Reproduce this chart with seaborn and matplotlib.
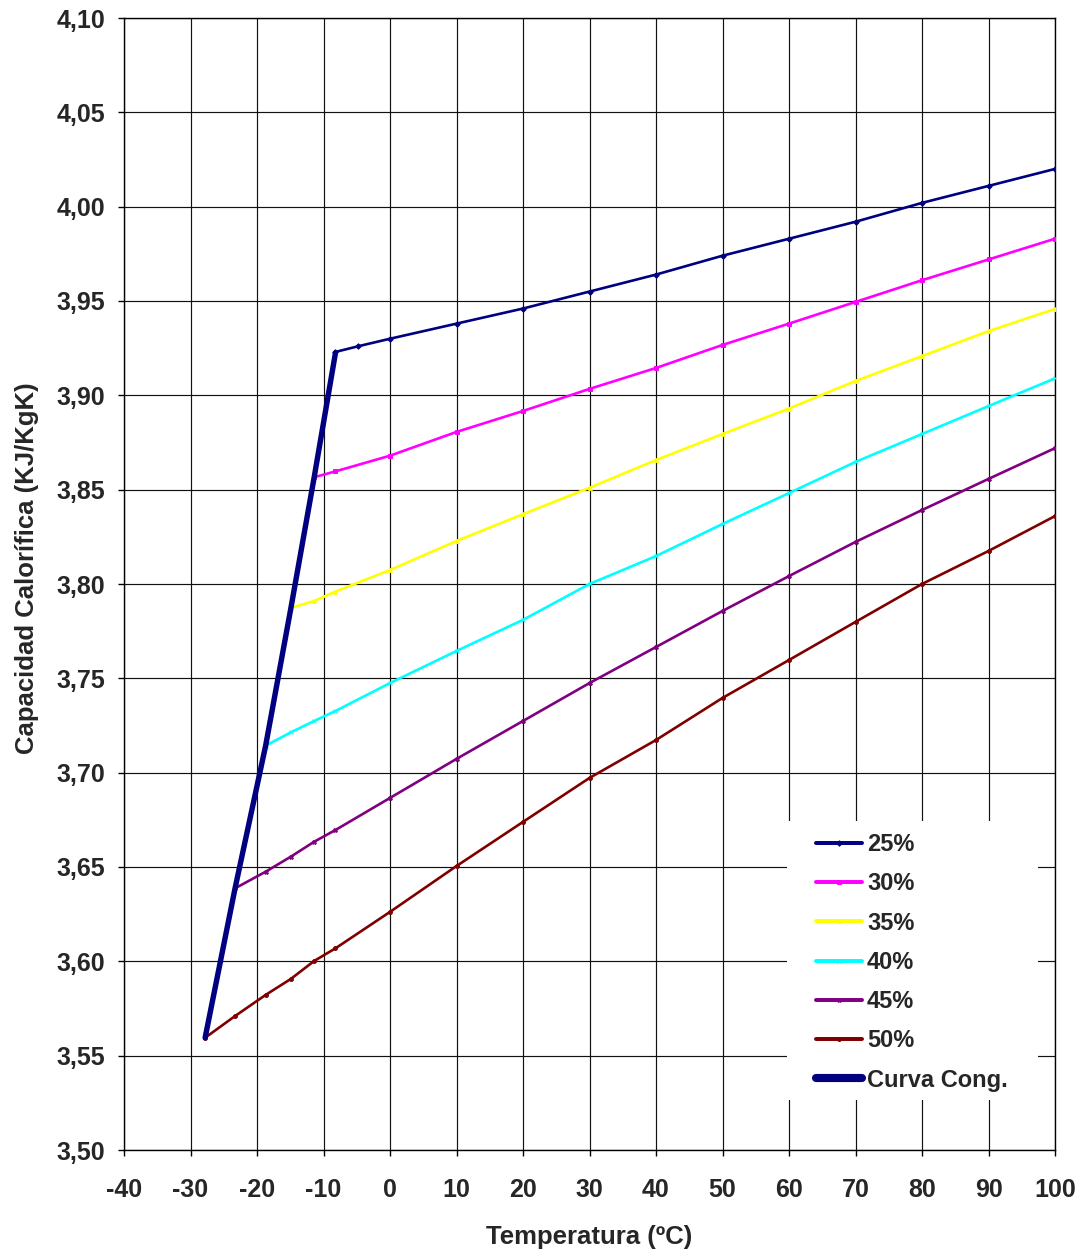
import numpy as np
import pandas as pd
import matplotlib
matplotlib.use("Agg")
import matplotlib.pyplot as plt
from matplotlib.patches import Rectangle
import seaborn as sns

# ---- data ----
t_tail = [0, 10, 20, 30, 40, 50, 60, 70, 80, 90, 100]

t_25 = [-8.2, -4.8] + t_tail
v_25 = [3.923, 3.926, 3.930, 3.938, 3.946, 3.955, 3.964, 3.974, 3.983, 3.992, 4.002, 4.011, 4.020]

t_30 = [-11.4, -8.2] + t_tail
v_30 = [3.8566, 3.8597, 3.868, 3.8806, 3.8917, 3.9034, 3.9145, 3.9267, 3.938, 3.9495, 3.961, 3.972, 3.983]

t_35 = [-14.9, -11.4, -8.2] + t_tail
v_35 = [3.7873, 3.791, 3.796, 3.8074, 3.8228, 3.837, 3.851, 3.8657, 3.8795, 3.893, 3.9076, 3.9208, 3.934, 3.9458]

t_40 = [-18.7, -14.9, -11.4, -8.2] + t_tail
v_40 = [3.7143, 3.7214, 3.7274, 3.7327, 3.7475, 3.7645, 3.781, 3.800, 3.8148, 3.8318, 3.8482, 3.8647, 3.8795, 3.8943, 3.909]

t_45 = [-23.3, -18.7, -14.9, -11.4, -8.2] + t_tail
v_45 = [3.6387, 3.6475, 3.6555, 3.6634, 3.6696, 3.6866, 3.7073, 3.7274, 3.7475, 3.7666, 3.7857, 3.8042, 3.8223, 3.8392, 3.8557, 3.872]

t_50 = [-27.8, -23.3, -18.7, -14.9, -11.4, -8.2] + t_tail
v_50 = [3.5595, 3.571, 3.5822, 3.5907, 3.6002, 3.6069, 3.6262, 3.6505, 3.6739, 3.6972, 3.7173, 3.7396, 3.7597, 3.7799, 3.800, 3.8175, 3.836]

t_cong = [-27.8, -23.3, -18.7, -14.9, -11.4, -8.2]
v_cong = [3.5595, 3.6387, 3.7143, 3.7873, 3.8566, 3.9225]

series_names = ["25%", "30%", "35%", "40%", "45%", "50%"]
series_t = [t_25, t_30, t_35, t_40, t_45, t_50]
series_v = [v_25, v_30, v_35, v_40, v_45, v_50]
series_colors = ["#000080", "#FF00FF", "#FFFF00", "#00FFFF", "#800080", "#800000"]
series_markers = ["D", "s", "^", "x", "X", "o"]
cong_name = "Curva Cong."
cong_color = "#000080"

x_ticks = list(range(-40, 101, 10))
y_ticks = [3.50, 3.55, 3.60, 3.65, 3.70, 3.75, 3.80, 3.85, 3.90, 3.95, 4.00, 4.05, 4.10]

# ---- build long table ----
rows = []
for name, ts, vs in zip(series_names, series_t, series_v):
    for t, v in zip(ts, vs):
        rows.append({"Temperatura": t, "Cp": v, "Serie": name})
df = pd.DataFrame(rows)
df_cong = pd.DataFrame({"Temperatura": t_cong, "Cp": v_cong, "Serie": cong_name})

sns.set_style("white")
plt.rcParams["font.family"] = ["Liberation Sans", "DejaVu Sans"]
plt.rcParams["font.weight"] = "bold"

W, H = 1084, 1252
fig = plt.figure(figsize=(W / 100, H / 100), dpi=100)
ax = fig.add_axes([124 / W, 1 - 1150 / H, (1055 - 124) / W, (1150 - 18) / H])

for name, col, mk in zip(series_names, series_colors, series_markers):
    sub = df[df["Serie"] == name]
    sns.lineplot(data=sub, x="Temperatura", y="Cp", color=col, linewidth=1.9,
                 marker=mk, markersize=2.8, markeredgewidth=0.7, markeredgecolor=col,
                 ax=ax, label=name, zorder=3, sort=False, estimator=None)

sns.lineplot(data=df_cong, x="Temperatura", y="Cp", color=cong_color, linewidth=3.9,
             ax=ax, label=cong_name, zorder=4, sort=False, estimator=None)

ax.set_xlim(-40, 100)
ax.set_ylim(3.50, 4.10)
ax.set_xticks(x_ticks)
ax.set_yticks(y_ticks)
ax.set_xticklabels([str(x) for x in x_ticks])
ax.set_yticklabels([f"{y:.2f}".replace(".", ",") for y in y_ticks])
ax.grid(True, color="#111111", linewidth=0.85)
ax.set_axisbelow(True)
for s in ax.spines.values():
    s.set_color("black")
    s.set_linewidth(1.0)
ax.tick_params(axis="both", which="major", direction="out", length=4.3, width=1,
               color="black", labelsize=18, bottom=True, left=True)
ax.tick_params(axis="y", pad=9)
ax.tick_params(axis="x", pad=16)
for lbl in ax.get_xticklabels() + ax.get_yticklabels():
    lbl.set_fontweight("bold")

ax.set_xlabel("Temperatura (ºC)", fontsize=18.5, fontweight="bold")
ax.set_ylabel("Capacidad Calorífica (KJ/KgK)", fontsize=18.5, fontweight="bold")
ax.xaxis.set_label_coords(0.5, -(1225 - 1150) / 1132)
ax.yaxis.set_label_coords(-(124 - 39) / 931, (1150 - 568) / 1132)

# white legend background box
ax.add_patch(Rectangle((787 / W, 1 - 1100 / H), 251 / W, 279 / H, transform=fig.transFigure,
                       facecolor="white", edgecolor="none", zorder=5, clip_on=False))

leg = ax.legend(loc="upper left", bbox_to_anchor=(816 / W, 1 - 833 / H),
                bbox_transform=fig.transFigure,
                frameon=False, prop={"size": 17, "weight": "bold"},
                handlelength=1.95, handletextpad=0.21, labelspacing=0.69,
                borderpad=0.0, borderaxespad=0.0)
leg.set_zorder(10)
for h in leg.get_lines():
    h.set_linewidth(h.get_linewidth() * 1.5)

fig.savefig("out.png", dpi=100)
